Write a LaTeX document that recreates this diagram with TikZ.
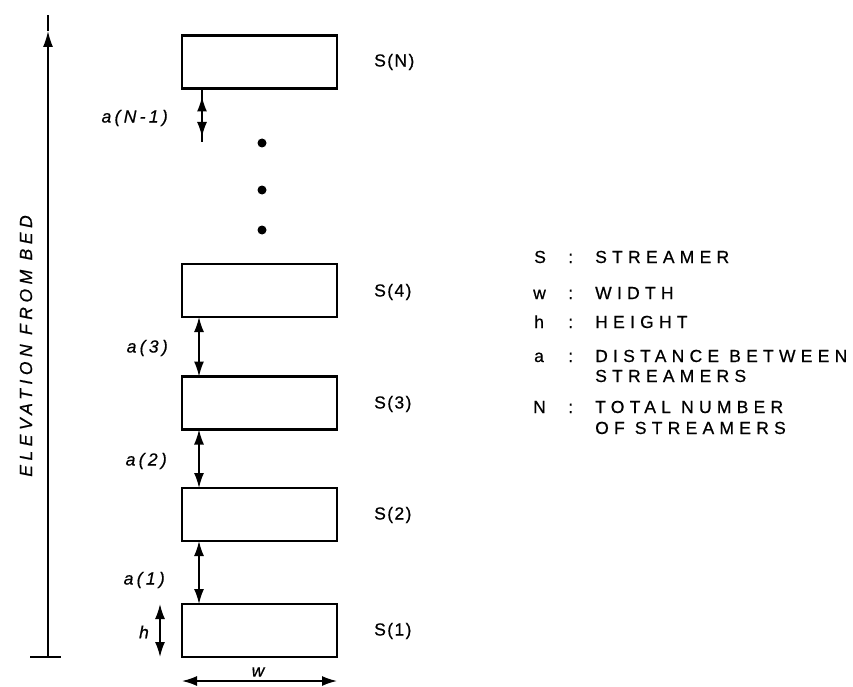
\documentclass[tikz,border=0pt]{standalone}
\usepackage{fontspec}
\setmainfont{Liberation Sans}
\newfontfamily\legfont[LetterSpace=30,FakeBold=0.6]{Liberation Sans}
\newfontfamily\boxlblfont[LetterSpace=8,FakeBold=0.6]{Liberation Sans}
\newfontfamily\itlblfont[LetterSpace=19,FakeBold=0.6]{Liberation Sans}
\newfontfamily\axisfont[LetterSpace=26,FakeBold=0.6]{Liberation Sans}
\usetikzlibrary{arrows.meta}
\begin{document}
\begin{tikzpicture}[x=1pt,y=-1pt,
  stream/.style={draw, line width=2.4pt, rectangle, minimum width=155pt, minimum height=53pt, inner sep=0pt, outer sep=0pt},
  dim/.style={line width=1.6pt, {Latex[length=15pt,width=10pt]}-{Latex[length=15pt,width=10pt]}},
  plain/.style={line width=1.6pt},
  dot/.style={circle, fill, minimum size=9pt, inner sep=0pt},
  txt/.style={inner sep=0pt, font=\fontsize{17.5}{20}\selectfont},
  boxlbl/.style={txt, anchor=west, font=\fontsize{17.5}{20}\selectfont\boxlblfont},
  albl/.style={txt, anchor=east, font=\fontsize{17.5}{20}\selectfont\itlblfont\itshape},
  leg/.style={txt, anchor=base west, font=\fontsize{17.5}{20}\selectfont\legfont}
]
\useasboundingbox (0,0) rectangle (853,687);

% streamers
\node[stream] (SN) at (259.5,62) {};
\node[stream] (S4) at (259.5,290.5) {};
\node[stream] (S3) at (259.5,403) {};
\node[stream] (S2) at (259.5,514.5) {};
\node[stream] (S1) at (259.5,630.5) {};

% streamer labels
\node[boxlbl] (lN) at (374,62) {S(N)};
\node[boxlbl] (l4) at (374,292) {S(4)};
\node[boxlbl] (l3) at (374,404) {S(3)};
\node[boxlbl] (l2) at (374,515) {S(2)};
\node[boxlbl] (l1) at (374,631) {S(1)};

% spacing arrows
\coordinate (axN) at (202,0);
\coordinate (ax) at (199,0);
\coordinate (aNend) at (202,142);
\draw[plain] (SN.south -| axN) -- (aNend);
\draw[dim, shorten <=8pt, shorten >=5pt] (SN.south -| axN) -- (aNend);
\draw[dim] (S4.south -| ax) -- (S3.north -| ax);
\draw[dim] (S3.south -| ax) -- (S2.north -| ax);
\draw[dim] (S2.south -| ax) -- (S1.north -| ax);

\node[albl] (aN1) at (168,118) {a(N-1)};
\node[albl] (a3) at (168,348) {a(3)};
\node[albl] (a2) at (167,461) {a(2)};
\node[albl] (a1) at (165,580) {a(1)};

% dots
\node[dot] (d1) at (262,143) {};
\node[dot] (d2) at (262,190) {};
\node[dot] (d3) at (262,230) {};

% h and w
\coordinate (hx) at (160,0);
\draw[dim] (S1.north -| hx) -- (S1.south -| hx);
\node[albl] (hl) at (149,632) {h};
\coordinate (wy) at (0,681);
\draw[dim] (S1.west |- wy) -- (S1.east |- wy);
\node[txt, font=\fontsize{17.5}{20}\selectfont\itlblfont\itshape] (wl) at (258,672) {w};

% elevation axis
\coordinate (axbase) at (48,657);
\coordinate (axmark) at (48,31);
\coordinate (axtop) at (48,15);
\coordinate (tickl) at (30,657);
\coordinate (tickr) at (61,657);
\draw[line width=1.6pt, -{Latex[length=16pt,width=10pt]}] (axbase) -- (axmark);
\draw[line width=1.6pt] (axmark) -- (axtop);
\draw[line width=1.8pt] (tickl) -- (tickr);
\node[txt, rotate=90, font=\fontsize{17.5}{20}\selectfont\axisfont\itshape] (elev) at (26,346) {ELEVATION FROM BED};

% legend
\node[leg] (kS) at (534,263) {S};
\node[leg] (cS) at (568,263) {:};
\node[leg] (tS) at (595,263) {STREAMER};
\node[leg] (kw) at (533,299) {w};
\node[leg] (cw) at (568,299) {:};
\node[leg] (tw) at (595,299) {WIDTH};
\node[leg] (kh) at (534,328) {h};
\node[leg] (ch) at (568,328) {:};
\node[leg] (th) at (595,328) {HEIGHT};
\node[leg] (ka) at (534,362) {a};
\node[leg] (ca) at (568,362) {:};
\node[leg] (ta) at (595,362) {DISTANCE BETWEEN};
\node[leg] (ta2) at (595,382) {STREAMERS};
\node[leg] (kN) at (533,413) {N};
\node[leg] (cN) at (568,413) {:};
\node[leg] (tN) at (595,413) {TOTAL NUMBER};
\node[leg] (tN2) at (595,434) {OF STREAMERS};
\end{tikzpicture}
\end{document}
